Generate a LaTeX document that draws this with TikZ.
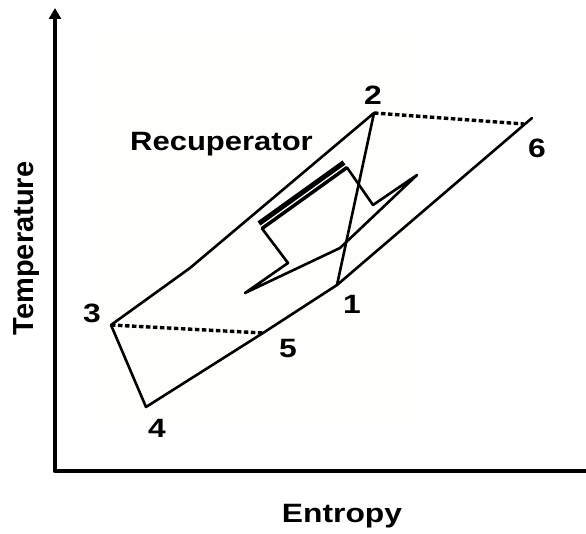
\documentclass[tikz,border=0pt]{standalone}
\usepackage{fontspec}
\setmainfont{Liberation Sans}
\usepackage{graphicx}
\usetikzlibrary{arrows.meta}
\definecolor{bgpale}{RGB}{254,254,252}
\begin{document}
\begin{tikzpicture}[x=1pt,y=-1pt,line join=round,line cap=round,
  curve/.style={line width=2.6pt},
  dotline/.style={line width=3.4pt,dash pattern=on 4.5pt off 2.5pt,line cap=butt},
  axisline/.style={line width=4.5pt,line cap=butt,{Triangle[length=11pt,width=12pt]}-{Triangle[length=11pt,width=12pt]}},
  lab/.style={font=\fontsize{26.5}{30}\selectfont\bfseries,inner sep=0pt,anchor=base},
  vlab/.style={font=\fontsize{29}{32}\selectfont\bfseries,inner sep=0pt,anchor=base,rotate=90}]
\useasboundingbox (0,0) rectangle (586,534);
\clip (0,0) rectangle (586,534);
\fill[bgpale] (98,30) rectangle (422,423);
% axes
\coordinate (O) at (55,471);
\coordinate (Ytop) at (55,8);
\coordinate (Xend) at (597,471);
\draw[axisline] (Ytop) -- (O) -- (Xend);
% cycle points
\coordinate (P1) at (337,285);
\coordinate (P2) at (374,113);
\coordinate (P3) at (111,325);
\coordinate (P4) at (146,407);
\coordinate (P5) at (263,333);
\coordinate (P6) at (532,118);
\coordinate (K) at (190,268);
\coordinate (D6) at (524,124);
\draw[curve] (P2) -- (K) -- (P3) -- (P4) -- (P5) -- (P1) -- (P6);
\draw[curve] (P2) -- (P1);
\draw[dotline] (P2) -- (D6);
\draw[dotline] (P3) -- (P5);
% recuperator symbol
\coordinate (A1) at (259,223.5);
\coordinate (A2) at (344,162.5);
\coordinate (B1) at (262,228.5);
\coordinate (B2) at (347,167.5);
\coordinate (R3) at (373,205);
\coordinate (R4) at (417,175);
\coordinate (R5) at (340,248);
\coordinate (R6) at (245,293);
\coordinate (R7) at (288,263);
\draw[curve] (B2) -- (R3) -- (R4) -- (R5) -- (R6) -- (R7) -- (B1);
\draw[line width=3.5pt,line cap=butt] (B1) -- (B2);
\draw[line width=5pt,line cap=butt] (A1) -- (A2);
% labels
\node[lab] (l1) at (352,314) {\scalebox{1.2}[1]{1}};
\node[lab] (l2) at (373,105) {\scalebox{1.2}[1]{2}};
\node[lab] (l3) at (92,323) {\scalebox{1.2}[1]{3}};
\node[lab] (l4) at (157,437) {\scalebox{1.2}[1]{4}};
\node[lab] (l5) at (288,358) {\scalebox{1.2}[1]{5}};
\node[lab] (l6) at (537,158) {\scalebox{1.2}[1]{6}};
\node[lab] (rec) at (221.5,151) {\scalebox{1.17}[1]{Recuperator}};
\node[lab] (ent) at (342,522) {\scalebox{1.2}[1]{Entropy}};
\node[vlab] (tmp) at (33,248.5) {Temperature};
\end{tikzpicture}
\end{document}
